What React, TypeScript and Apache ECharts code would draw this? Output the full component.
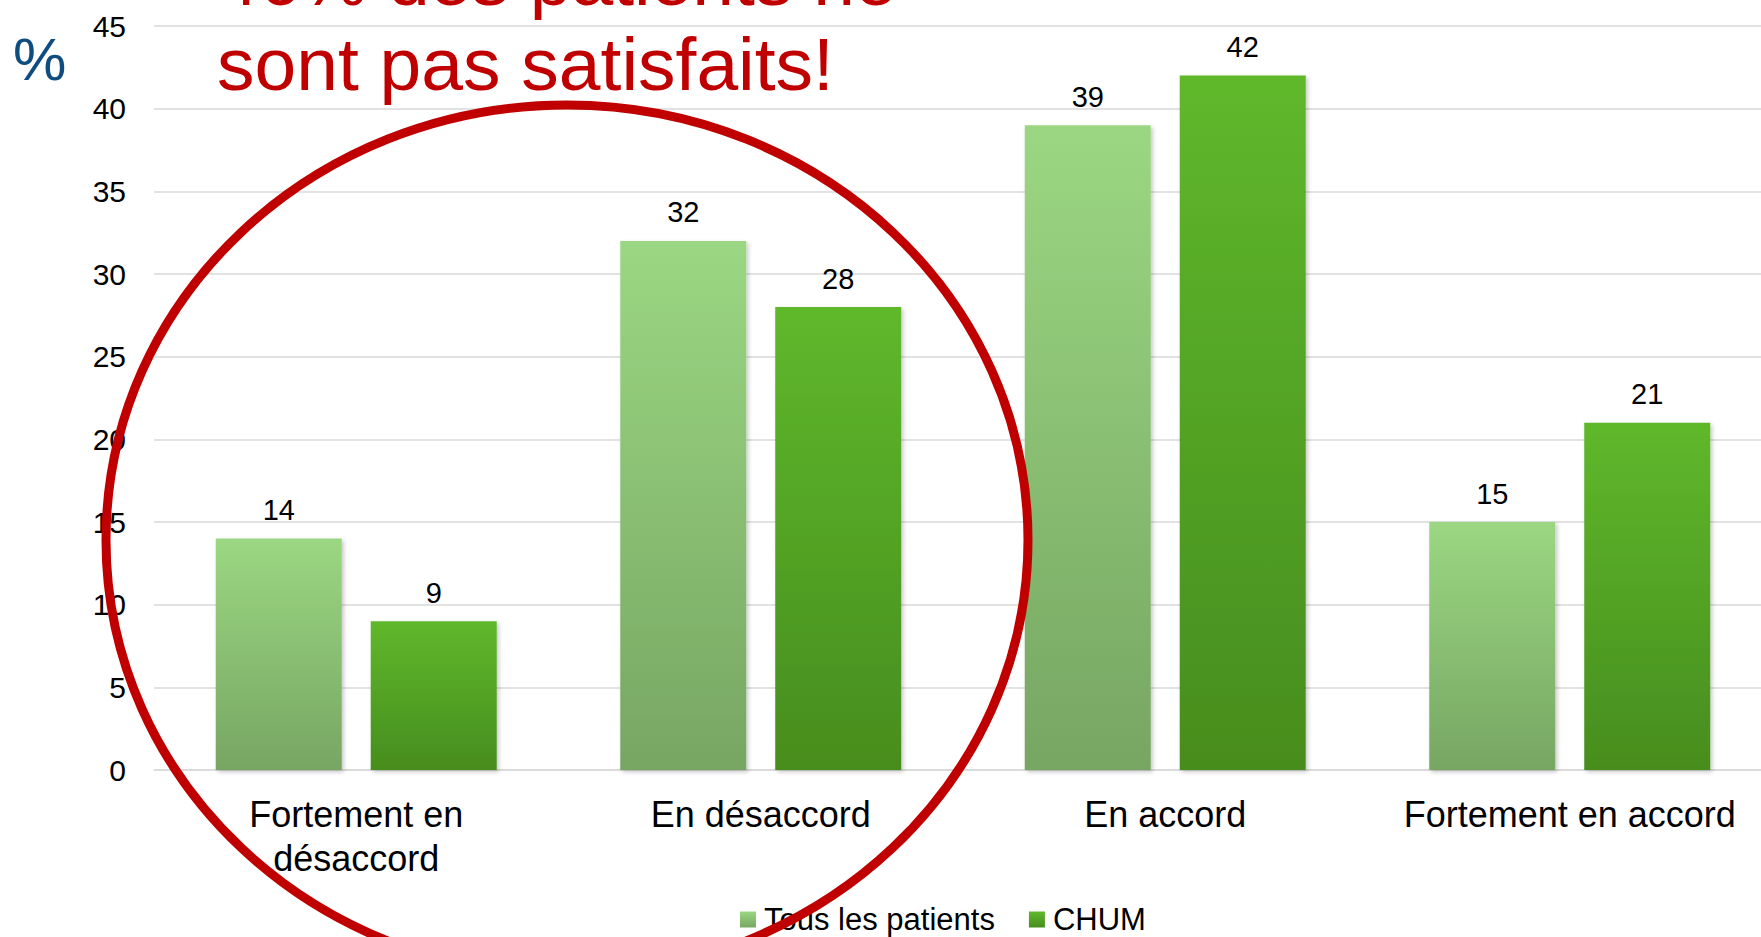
import React, { useEffect, useRef } from "react";
import * as echarts from "echarts";

const categories = ["Fortement en\ndésaccord", "En désaccord", "En accord", "Fortement en accord"];
const seriesNames = ["Tous les patients", "CHUM"];
const tousValues = [14, 32, 39, 15];
const chumValues = [9, 28, 42, 21];
const yTicks = { min: 0, max: 45, interval: 5 };
const titleLines = ["46% des patients ne", "sont pas satisfaits!"];
const unitLabel = "%";

const FONT = "'Liberation Sans', Arial, sans-serif";

export default function App() {
  const ref = useRef<HTMLDivElement>(null);
  useEffect(() => {
    if (!ref.current) return;
    const chart = echarts.init(ref.current, undefined, { renderer: "svg" });
    const grad = (top: string, bottom: string) =>
      new echarts.graphic.LinearGradient(0, 0, 0, 1, [
        { offset: 0, color: top },
        { offset: 1, color: bottom },
      ]);
    const labelCfg = {
      show: true,
      position: "top" as const,
      distance: 14,
      color: "#000",
      fontSize: 29,
      fontFamily: FONT,
    };
    const shadow = {
      shadowColor: "rgba(0,0,0,0.22)",
      shadowBlur: 4,
      shadowOffsetX: 2,
      shadowOffsetY: 2,
    };
    chart.setOption({
      animation: false,
      backgroundColor: "#fff",
      textStyle: { fontFamily: FONT },
      grid: {
        left: 154,
        width: 1618,
        top: 26,
        bottom: 167,
        containLabel: false,
        outerBoundsMode: "none",
      },
      legend: {
        left: 735,
        top: 899,
        itemWidth: 16,
        itemHeight: 16,
        itemGap: 34,
        icon: "rect",
        textStyle: { fontSize: 31, color: "#000", fontFamily: FONT, padding: [0, 0, 0, 3] },
        data: seriesNames,
      },
      xAxis: {
        type: "category",
        data: categories,
        axisLine: { show: true, lineStyle: { color: "#d9d9d9", width: 1.5 } },
        axisTick: { show: false },
        axisLabel: {
          color: "#000",
          fontSize: 36,
          lineHeight: 44,
          margin: 22,
          fontFamily: FONT,
          interval: 0,
        },
      },
      yAxis: {
        type: "value",
        min: yTicks.min,
        max: yTicks.max,
        interval: yTicks.interval,
        axisLine: { show: false },
        axisTick: { show: false },
        splitLine: { lineStyle: { color: "#d9d9d9", width: 1.5 } },
        axisLabel: { color: "#000", fontSize: 30, margin: 28, fontFamily: FONT },
      },
      series: [
        {
          name: seriesNames[0],
          type: "bar",
          data: tousValues,
          barWidth: 126,
          barGap: "23%",
          itemStyle: { color: grad("#9bd782", "#77a663"), ...shadow },
          label: labelCfg,
        },
        {
          name: seriesNames[1],
          type: "bar",
          data: chumValues,
          barWidth: 126,
          barGap: "23%",
          itemStyle: { color: grad("#5fb82b", "#478d1e"), ...shadow },
          label: labelCfg,
        },
      ],
      graphic: [
        {
          type: "text",
          x: 13,
          y: 59,
          z: 50,
          style: {
            text: unitLabel,
            font: `60px ${FONT}`,
            fill: "#0f4c7f",
            align: "left",
            verticalAlign: "middle",
          },
        },
        {
          type: "text",
          x: 217,
          y: -21,
          z: 50,
          style: {
            text: titleLines[0],
            font: `75px ${FONT}`,
            fill: "#c00000",
            align: "left",
            verticalAlign: "middle",
          },
        },
        {
          type: "text",
          x: 217,
          y: 64,
          z: 50,
          style: {
            text: titleLines[1],
            font: `75px ${FONT}`,
            fill: "#c00000",
            align: "left",
            verticalAlign: "middle",
          },
        },
        {
          type: "ellipse",
          z: 100,
          shape: { cx: 567, cy: 540, rx: 461, ry: 435 },
          style: { fill: "none", stroke: "#c00000", lineWidth: 9 },
        },
      ],
    });
    return () => chart.dispose();
  }, []);
  return (
    <div
      ref={ref}
      style={{ position: "absolute", left: 0, top: 0, width: 1761, height: 937 }}
    />
  );
}
